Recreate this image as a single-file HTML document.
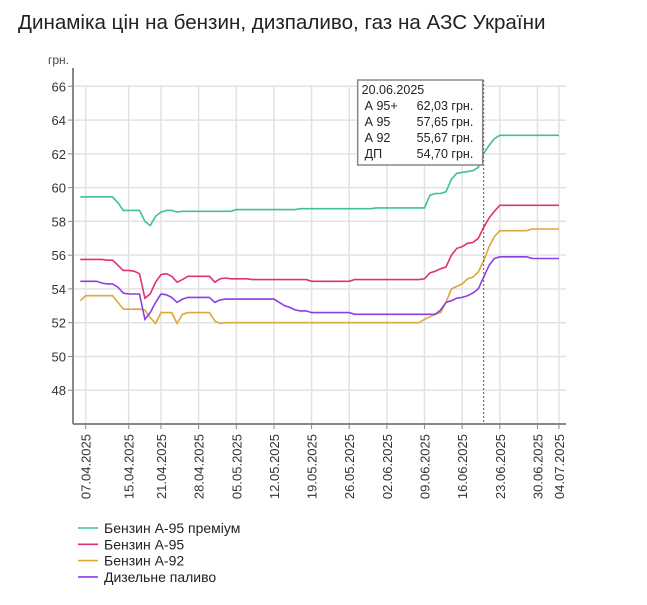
<!DOCTYPE html>
<html><head><meta charset="utf-8"><style>
body{margin:0;background:#fff;width:647px;height:600px;overflow:hidden;font-family:"Liberation Sans",sans-serif}
svg text{font-family:"Liberation Sans",sans-serif}
</style></head><body>
<svg id="chart" width="647" height="600">
<text x="18" y="29" font-size="20.6" fill="#222">Динаміка цін на бензин, дизпаливо, газ на АЗС України</text>
<text x="48" y="64" font-size="12" fill="#444">грн.</text>
<g id="grid"></g><g id="series"></g><g id="axes"></g><g id="legend"></g>
</svg>
<script>
const tickDates=["07.04.2025","15.04.2025","21.04.2025","28.04.2025","05.05.2025","12.05.2025","19.05.2025","26.05.2025","02.06.2025","09.06.2025","16.06.2025","23.06.2025","30.06.2025","04.07.2025"];
const tickDays=[0,8,14,21,28,35,42,49,56,63,70,77,84,88];
const yTicks=[48,50,52,54,56,58,60,62,64,66];
const seriesNames=["Бензин А-95 преміум","Бензин А-95","Бензин А-92","Дизельне паливо"];
const firstDay=-1;
const a95p=[59.45,59.45,59.45,59.45,59.45,59.45,59.45,59.1,58.65,58.65,58.65,58.65,58.0,57.75,58.3,58.55,58.65,58.65,58.55,58.6,58.6,58.6,58.6,58.6,58.6,58.6,58.6,58.6,58.6,58.7,58.7,58.7,58.7,58.7,58.7,58.7,58.7,58.7,58.7,58.7,58.7,58.75,58.75,58.75,58.75,58.75,58.75,58.75,58.75,58.75,58.75,58.75,58.75,58.75,58.75,58.8,58.8,58.8,58.8,58.8,58.8,58.8,58.8,58.8,58.8,59.55,59.65,59.65,59.75,60.5,60.85,60.9,60.95,61.0,61.2,62.03,62.5,62.9,63.1,63.1,63.1,63.1,63.1,63.1,63.1,63.1,63.1,63.1,63.1,63.1];
const a95=[55.75,55.75,55.75,55.75,55.75,55.7,55.7,55.4,55.1,55.1,55.05,54.9,53.45,53.7,54.4,54.85,54.9,54.75,54.4,54.55,54.75,54.75,54.75,54.75,54.75,54.4,54.6,54.65,54.6,54.6,54.6,54.6,54.55,54.55,54.55,54.55,54.55,54.55,54.55,54.55,54.55,54.55,54.55,54.45,54.45,54.45,54.45,54.45,54.45,54.45,54.45,54.55,54.55,54.55,54.55,54.55,54.55,54.55,54.55,54.55,54.55,54.55,54.55,54.55,54.6,54.95,55.05,55.2,55.3,56.0,56.4,56.5,56.7,56.75,57.0,57.65,58.2,58.6,58.95,58.95,58.95,58.95,58.95,58.95,58.95,58.95,58.95,58.95,58.95,58.95];
const a92=[53.3,53.6,53.6,53.6,53.6,53.6,53.6,53.2,52.8,52.8,52.8,52.8,52.75,52.3,51.95,52.6,52.6,52.6,51.95,52.5,52.6,52.6,52.6,52.6,52.6,52.1,51.95,52,52,52,52,52,52,52,52,52,52,52,52,52,52,52,52,52,52,52,52,52,52,52,52,52,52,52,52,52,52,52,52,52,52,52,52,52,52.2,52.35,52.5,52.6,53.2,54.0,54.15,54.3,54.6,54.7,55.0,55.67,56.5,57.1,57.45,57.45,57.45,57.45,57.45,57.45,57.55,57.55,57.55,57.55,57.55,57.55];
const dp=[54.45,54.45,54.45,54.45,54.35,54.3,54.3,54.1,53.75,53.7,53.7,53.7,52.2,52.6,53.2,53.7,53.65,53.5,53.2,53.4,53.5,53.5,53.5,53.5,53.5,53.2,53.35,53.4,53.4,53.4,53.4,53.4,53.4,53.4,53.4,53.4,53.4,53.2,53.0,52.9,52.75,52.7,52.7,52.6,52.6,52.6,52.6,52.6,52.6,52.6,52.6,52.5,52.5,52.5,52.5,52.5,52.5,52.5,52.5,52.5,52.5,52.5,52.5,52.5,52.5,52.5,52.5,52.75,53.2,53.3,53.45,53.5,53.6,53.75,54.0,54.7,55.4,55.8,55.9,55.9,55.9,55.9,55.9,55.9,55.8,55.8,55.8,55.8,55.8,55.8];
const tipDay=74;
const tipLabels=["А 95+","А 95","А 92","ДП"];

const NS="http://www.w3.org/2000/svg";
const X0=73,X1=566,Y0=86,Y1=424;
const xOf=d=>85.7+d*5.378;
const yOf=v=>322.7-(v-52)*16.886;
function mk(tag,attrs,parent,txt){const e=document.createElementNS(NS,tag);for(const k in attrs)e.setAttribute(k,attrs[k]);if(txt!==undefined)e.textContent=txt;parent.appendChild(e);return e;}
const grid=document.getElementById('grid'),axes=document.getElementById('axes'),ser=document.getElementById('series'),leg=document.getElementById('legend');
yTicks.forEach(v=>{
  const l=mk('line',{x1:X0,x2:X1,y1:yOf(v),y2:yOf(v),stroke:'#e2e2e2','stroke-width':1.5},grid);
  
  
  const t=mk('text',{x:66,y:yOf(v)+5,'text-anchor':'end','font-size':13,fill:'#333'},axes,String(v));
  
  
  mk('line',{x1:68,x2:73,y1:yOf(v),y2:yOf(v),stroke:'#888'},axes);
});
tickDays.forEach((d,i)=>{
  const x=xOf(d);
  const l=mk('line',{x1:x,x2:x,y1:Y0,y2:Y1,stroke:'#e2e2e2','stroke-width':1.5},grid);
  
  
  mk('line',{x1:x,x2:x,y1:Y1,y2:Y1+5,stroke:'#888'},axes);
  const t=mk('text',{transform:`translate(${x+5},${Y1+10}) rotate(-90)`,'text-anchor':'end','font-size':13,fill:'#333'},axes,tickDates[i]);
  
  
});
mk('line',{x1:X0,x2:X0,y1:68,y2:Y1,stroke:'#888','stroke-width':2},axes);
mk('line',{x1:X0,x2:X1,y1:Y1,y2:Y1,stroke:'#888','stroke-width':2},axes);
const colors=['#3fbf9c','#e0307c','#dba83a','#8b3fe3'];
const data=[a95p,a95,a92,dp];
const names=['series-a95-premium','series-a95','series-a92','series-diesel'];
data.forEach((arr,k)=>{
  const pts=arr.map((v,i)=>xOf(firstDay+i).toFixed(1)+','+yOf(v).toFixed(1)).join(' ');
  const p=mk('polyline',{points:pts,fill:'none',stroke:colors[k],'stroke-width':1.6},ser);
  
  
});
const tx=xOf(tipDay);
const cur=mk('line',{x1:tx,x2:tx,y1:80,y2:Y1,stroke:'#555','stroke-dasharray':'2,2'},axes);


const tip=mk('g',{},axes);


mk('rect',{x:tx-126,y:80,width:125,height:85,fill:'#fff',stroke:'#888','stroke-width':1.5},tip);
mk('text',{x:tx-122,y:94,'font-size':12.5,fill:'#222'},tip,"20.06.2025");
[a95p,a95,a92,dp].forEach((arr,k)=>{
  const y=110+k*16;
  mk('text',{x:tx-119,y:y,'font-size':12.5,fill:'#222'},tip,tipLabels[k]);
  mk('text',{x:tx-67,y:y,'font-size':12.5,fill:'#222'},tip,arr[tipDay-firstDay].toFixed(2).replace('.',',')+' грн.');
});
seriesNames.forEach((n,k)=>{
  const y=528+k*16.3;
  const g=mk('g',{},leg);
  
  
  mk('line',{x1:78,x2:98,y1:y,y2:y,stroke:colors[k],'stroke-width':1.6},g);
  mk('text',{x:104,y:y+5,'font-size':14,fill:'#222'},g,n);
});
</script>
</body></html>
